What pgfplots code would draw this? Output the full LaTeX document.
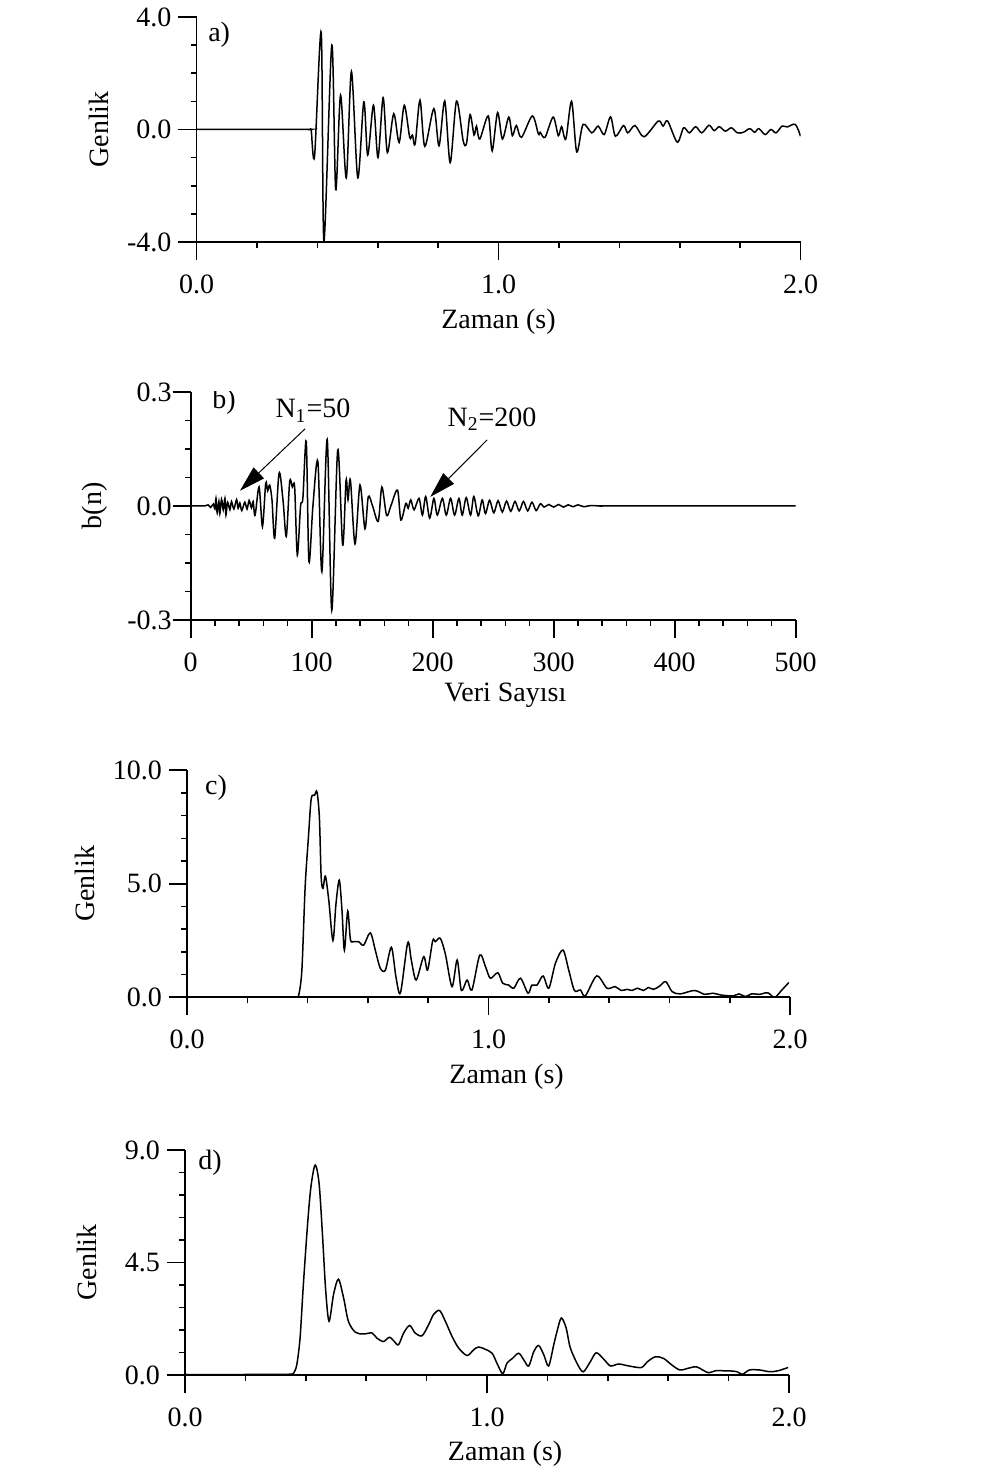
\documentclass[border=0pt]{standalone}
\usepackage{fontspec}
\setmainfont{Liberation Serif}
\usepackage{pgfplots}
\pgfplotsset{compat=1.18}
\usetikzlibrary{arrows.meta}

\newcommand{\lbl}{\fontsize{14}{16}\selectfont}

\pgfplotsset{
  panel/.style={
    scale only axis, anchor=south west,
    axis x line=bottom, axis y line=left,
    axis line style={-, line width=0.8pt},
    tick align=outside, major tick length=9pt, minor tick length=3pt,
    every tick/.style={black, line width=0.8pt},
    tick label style={font=\lbl},
    xticklabel style={yshift=-4pt},
    label style={font=\lbl},
    xlabel style={at={(axis description cs:0.5,-0.355)}, anchor=center},
    trace/.style={black, line width=0.75pt, smooth, tension=0.5, mark=none},
  },
  zaman/.style={
    xmin=0, xmax=2, xtick={0,1,2}, xticklabels={0.0,1.0,2.0},
    minor xtick={0.2,0.4,0.6,0.8,1.2,1.4,1.6,1.8},
    xlabel={Zaman (s)},
  },
}

\begin{document}
\begin{tikzpicture}
\path[use as bounding box] (0,0) rectangle (503.5pt,735pt);

% a) time series
\begin{axis}[panel, zaman, at={(98.25pt,614pt)}, width=302pt, height=112.5pt,
  ymin=-4, ymax=4, ytick={-4,0,4}, yticklabels={-4.0,0.0,4.0},
  minor ytick={-3,-2,-1,1,2,3},
  ylabel={Genlik}, ylabel style={at={(axis description cs:-0.162,0.5)}, anchor=center}]
\addplot[trace] coordinates {
(0,0) (0.2,0) (0.37,0) (0.376,0) (0.380,-0.05) (0.391,-0.94) (0.413,3.45) (0.422,-3.97) (0.448,3.0)
(0.461,-2.14) (0.477,1.22) (0.496,-1.72) (0.513,2.06) (0.534,-1.72) (0.554,0.98)
(0.567,-0.91) (0.586,0.86) (0.601,-1.0) (0.618,1.13) (0.632,-0.82) (0.653,0.56)
(0.671,-0.46) (0.688,0.86) (0.706,-0.28) (0.715,-0.2) (0.724,-0.52) (0.740,1.04)
(0.756,-0.6) (0.786,0.74) (0.803,-0.58) (0.822,1.01) (0.840,-1.18) (0.861,1.01)
(0.883,-0.4) (0.894,-0.5) (0.906,0.53) (0.919,-0.2) (0.927,0.12) (0.938,-0.34)
(0.966,0.48) (0.979,-0.76) (0.997,0.6) (1.013,-0.34) (1.034,0.44) (1.046,-0.22)
(1.059,0.14) (1.076,-0.28) (1.112,0.48) (1.132,-0.16) (1.138,-0.1) (1.154,-0.28)
(1.181,0.44) (1.198,-0.22) (1.209,0.1) (1.223,-0.34) (1.242,1.0) (1.259,-0.8)
(1.280,0.18) (1.309,-0.12) (1.330,0.12) (1.350,-0.18) (1.371,0.45) (1.387,-0.24)
(1.414,0.14) (1.428,-0.12) (1.452,0.14) (1.482,-0.26) (1.529,0.3) (1.545,0.12)
(1.560,0.3) (1.592,-0.45) (1.613,0.06) (1.632,-0.12) (1.653,0.1) (1.673,-0.12)
(1.697,0.15) (1.714,-0.04) (1.731,0.1) (1.751,-0.06) (1.771,0.06) (1.791,-0.12)
(1.811,-0.1) (1.832,0.03) (1.848,-0.1) (1.862,0.03) (1.883,-0.18) (1.902,0.0)
(1.919,-0.12) (1.939,0.12) (1.956,0.09) (1.983,0.18) (2.0,-0.24)
};
\node[font=\lbl] at (axis cs:0.075,3.35) {a)};
\end{axis}

% b) filter b(n)
\begin{axis}[panel, at={(95.35pt,425pt)}, width=302.5pt, height=114pt,
  xmin=0, xmax=500, xtick={0,100,200,300,400,500},
  xticklabels={0,100,200,300,400,500},
  minor xtick={20,40,60,80,120,140,160,180,220,240,260,280,320,340,360,380,420,440,460,480},
  ymin=-0.3, ymax=0.3, ytick={-0.3,0,0.3}, yticklabels={-0.3,0.0,0.3},
  minor ytick={-0.225,-0.15,-0.075,0.075,0.15,0.225},
  yticklabel style={xshift=3pt},
  xlabel={Veri Sayısı}, xlabel style={at={(axis description cs:0.52,-0.33)}},
  ylabel={b(n)}, ylabel style={at={(axis description cs:-0.159,0.5)}, anchor=center}]
\addplot[trace] coordinates {
(0,0) (10,0) (11.8,0) (14.5,0.003) (16.5,-0.004) (18.7,0.005) (20,-0.008) (20.9,0.02)
(21.9,-0.018) (23.3,0.012) (24.1,-0.02) (25.5,0.018) (26.9,-0.01) (28.3,0.02)
(29.1,-0.024) (30.5,0.01) (32.4,-0.01) (33.7,0.012) (35.7,-0.008) (37.9,0.017)
(39.2,-0.006) (40.6,0.008) (42.2,-0.012) (44.7,0.01) (46.6,-0.008) (48.3,0.015)
(50.2,-0.005) (51.6,0.012) (53.2,-0.025) (56.5,0.05) (59.3,-0.054) (62,0.06)
(63.6,0.04) (65.3,0.055) (67.2,0.015) (69.4,-0.085) (73,0.086) (76.3,0.015)
(79,-0.08) (81.8,0.064) (84,0.05) (85.9,0.05) (88.1,-0.129) (90.8,0.0)
(92.7,0.02) (95.5,0.17) (97.7,-0.146) (101,0.0) (105.1,0.117) (108.4,-0.173)
(112.8,0.175) (116.6,-0.274) (121.5,0.147) (125.6,-0.103) (128.4,0.068) (130,0.016)
(132,0.068) (135.8,-0.1) (139.9,0.055) (144,-0.06) (146.8,0.025) (150.3,0.0)
(155,-0.04) (158,0.05) (161.9,-0.025) (165.4,0.0) (170.9,0.042) (173.7,-0.037)
(177.8,0.007) (179.7,-0.006) (181.9,0.016) (184.6,-0.01) (188.7,0.02) (191.5,-0.024)
(194.2,0.025) (197.5,-0.032) (201,0.02) (203.8,-0.024) (208,0.02) (211.2,-0.024)
(214.8,0.02) (218.1,-0.024) (221.7,0.02) (224.4,-0.024) (227.7,0.022) (231.3,-0.024)
(234,0.025) (237.6,-0.026) (240.9,0.016) (243.6,-0.02) (247,0.015) (250.5,-0.018)
(254,0.014) (257.5,-0.016) (261,0.013) (264.5,-0.014) (268,0.012) (271.5,-0.013)
(275,0.012) (278.5,-0.013) (282,0.01) (285.5,-0.012) (289,0.006) (292,-0.003)
(296,0.004) (300,-0.003) (304,0.004) (308,-0.003) (312,0.003) (316,-0.002)
(320,0.003) (325,-0.002) (330,0.001) (340,0) (350,0) (500,0)
};
\node[font=\lbl] at (axis cs:27.5,0.274) {b)};
\node[font=\lbl, anchor=base] at (axis cs:101,0.232) {N\textsubscript{1}=50};
\node[font=\lbl, anchor=base] at (axis cs:249,0.209) {N\textsubscript{2}=200};
\draw[line width=0.5pt, -{Triangle[length=13pt, width=7.5pt]}] (axis cs:94.5,0.203) -- (axis cs:40.7,0.04);
\draw[line width=0.5pt, -{Triangle[length=13pt, width=7.5pt]}] (axis cs:245,0.174) -- (axis cs:198,0.024);
\end{axis}

% c) envelope
\begin{axis}[panel, zaman, at={(93.5pt,236.35pt)}, width=301.5pt, height=113.5pt,
  ymin=0, ymax=10, ytick={0,5,10}, yticklabels={0.0,5.0,10.0},
  minor ytick={1,2,3,4,6,7,8,9},
  xlabel style={at={(axis description cs:0.53,-0.35)}},
  ylabel={Genlik}, ylabel style={at={(axis description cs:-0.169,0.5)}, anchor=center}]
\addplot[trace] coordinates {
(0,0) (0.2,0) (0.355,0) (0.362,0) (0.370,0.06) (0.381,1.2) (0.392,4.9) (0.403,7.1)
(0.412,8.75) (0.423,8.9) (0.431,9.05) (0.439,7.95) (0.445,5.3) (0.451,4.8)
(0.459,5.34) (0.470,4.3) (0.484,2.5) (0.494,4.1) (0.505,5.16) (0.514,3.84)
(0.522,2.08) (0.533,3.8) (0.542,2.55) (0.553,2.45) (0.569,2.45) (0.586,2.3)
(0.608,2.84) (0.625,2.05) (0.641,1.28) (0.658,1.2) (0.678,2.2) (0.693,0.9)
(0.708,0.2) (0.732,2.4) (0.744,1.64) (0.760,0.76) (0.785,1.79) (0.798,1.2)
(0.815,2.5) (0.824,2.45) (0.840,2.6) (0.857,1.9) (0.879,0.47) (0.896,1.64)
(0.910,0.3) (0.929,0.76) (0.945,0.32) (0.971,1.86) (0.990,1.35) (1.006,0.84)
(1.031,1.08) (1.047,0.62) (1.067,0.54) (1.084,0.4) (1.106,0.84) (1.131,0.18)
(1.144,0.54) (1.161,0.54) (1.181,0.94) (1.200,0.4) (1.222,1.5) (1.247,2.08)
(1.266,1.2) (1.285,0.3) (1.305,0.32) (1.321,0.06) (1.359,0.94) (1.393,0.4)
(1.420,0.47) (1.440,0.3) (1.460,0.35) (1.476,0.3) (1.494,0.4) (1.514,0.3)
(1.530,0.43) (1.548,0.35) (1.568,0.5) (1.588,0.69) (1.609,0.25) (1.636,0.15)
(1.683,0.3) (1.717,0.13) (1.744,0.18) (1.771,0.1) (1.811,0.06) (1.831,0.15)
(1.852,0.03) (1.872,0.15) (1.899,0.13) (1.926,0.2) (1.949,0.0) (1.973,0.32)
(1.996,0.65)
};
\node[font=\lbl] at (axis cs:0.096,9.25) {c)};
\end{axis}

% d) smoothed envelope
\begin{axis}[panel, zaman, at={(92.5pt,47.5pt)}, width=302pt, height=112.5pt,
  ymin=0, ymax=9, ytick={0,4.5,9}, yticklabels={0.0,4.5,9.0},
  minor ytick={0.9,1.8,2.7,3.6,5.4,6.3,7.2,8.1},
  xlabel style={at={(axis description cs:0.53,-0.35)}},
  ylabel={Genlik}, ylabel style={at={(axis description cs:-0.162,0.5)}, anchor=center}]
\addplot[trace] coordinates {
(0,0.02) (0.2,0.02) (0.345,0.03) (0.352,0.03) (0.359,0.06) (0.370,0.4) (0.381,1.48) (0.392,3.63) (0.406,6.05)
(0.417,7.53) (0.431,8.4) (0.444,7.66) (0.455,5.65) (0.466,3.36) (0.477,2.15)
(0.492,3.23) (0.508,3.83) (0.525,3.09) (0.541,2.15) (0.564,1.71) (0.591,1.64)
(0.619,1.68) (0.635,1.48) (0.657,1.34) (0.677,1.51) (0.693,1.34) (0.707,1.21)
(0.724,1.68) (0.744,1.98) (0.762,1.68) (0.785,1.57) (0.807,2.02) (0.823,2.42)
(0.843,2.58) (0.862,2.15) (0.884,1.55) (0.906,1.08) (0.934,0.78) (0.956,1.01)
(0.972,1.12) (0.994,1.03) (1.017,0.87) (1.033,0.47) (1.052,0.05) (1.066,0.47)
(1.083,0.65) (1.105,0.87) (1.122,0.6) (1.138,0.36) (1.155,0.94) (1.171,1.18)
(1.188,0.81) (1.204,0.36) (1.221,1.21) (1.232,1.75) (1.246,2.28) (1.262,1.88)
(1.276,1.08) (1.301,0.4) (1.319,0.13) (1.342,0.53) (1.362,0.89) (1.389,0.6)
(1.409,0.36) (1.436,0.44) (1.470,0.36) (1.511,0.3) (1.531,0.53) (1.558,0.73)
(1.585,0.66) (1.612,0.4) (1.639,0.2) (1.666,0.27) (1.693,0.33) (1.714,0.2)
(1.734,0.09) (1.757,0.17) (1.781,0.17) (1.808,0.16) (1.828,0.13) (1.846,0.03)
(1.869,0.2) (1.903,0.2) (1.936,0.13) (1.964,0.17) (1.997,0.3)
};
\node[font=\lbl] at (axis cs:0.083,8.48) {d)};
\end{axis}
\end{tikzpicture}
\end{document}
